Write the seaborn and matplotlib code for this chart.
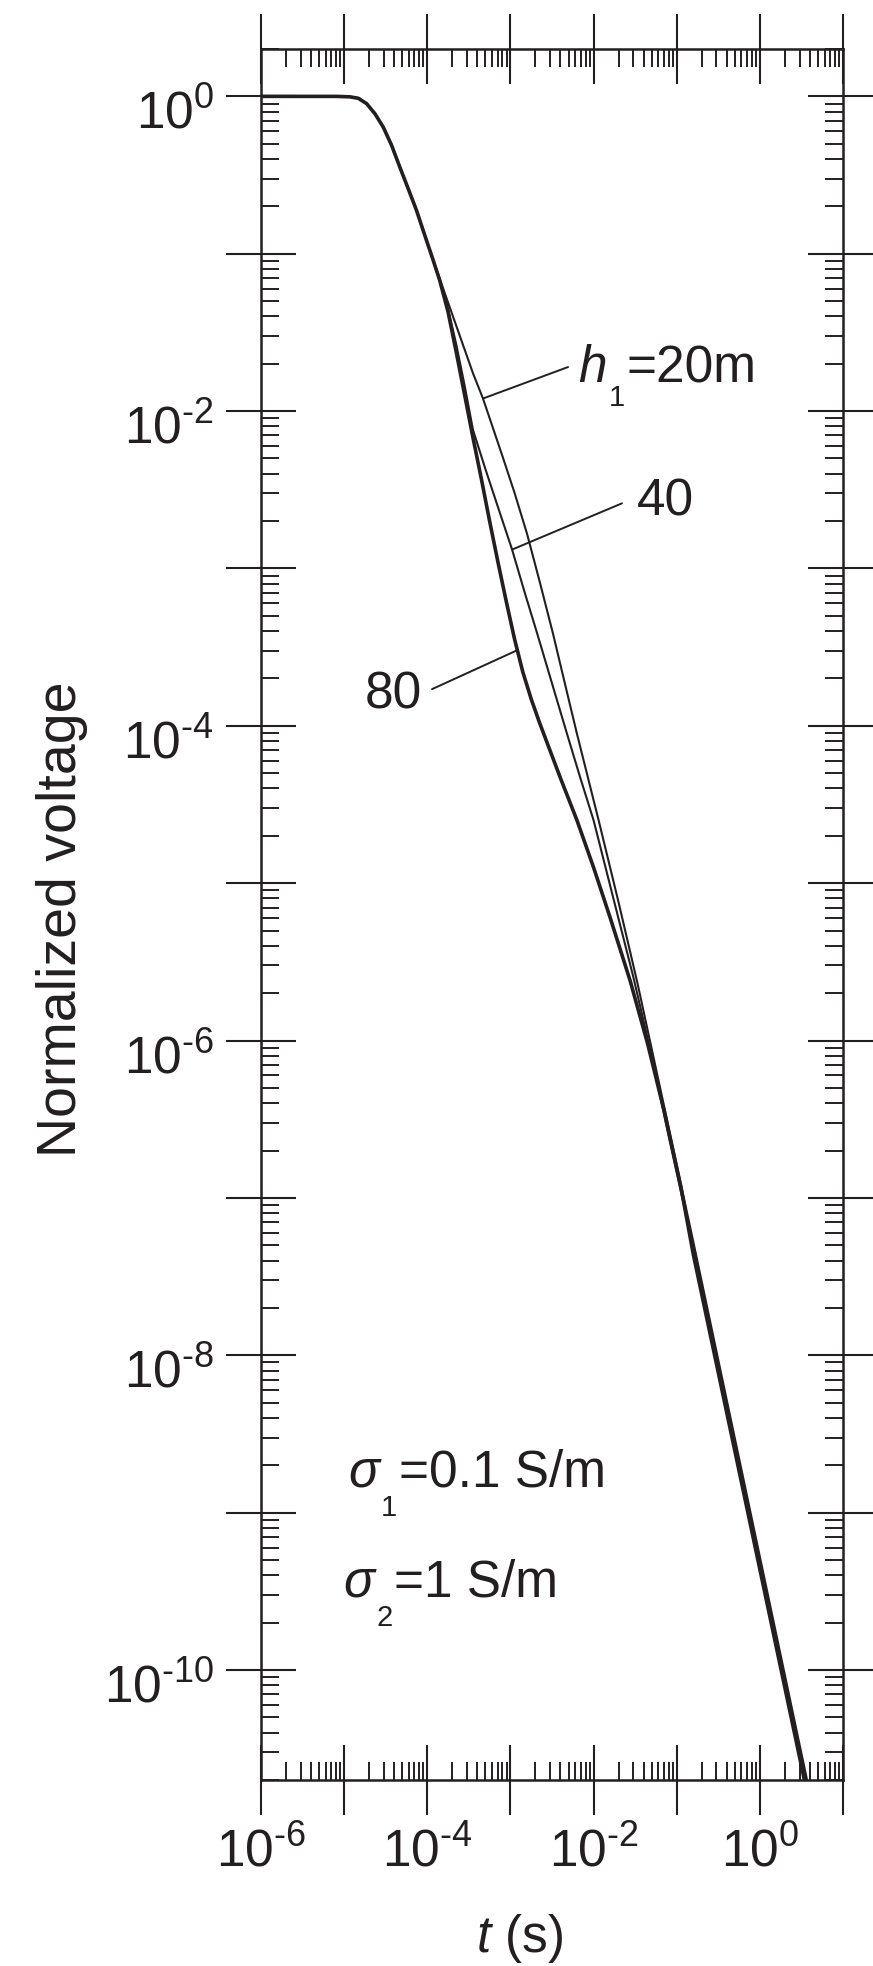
# TEM decay curves, two-layer earth, three top-layer thicknesses

import numpy as np
import pandas as pd
import seaborn as sns
import matplotlib
matplotlib.use('Agg')
from matplotlib import pyplot as plt
from matplotlib import ticker
from matplotlib.transforms import ScaledTranslation

# values, as log10(t) and log10(V)
early_log_t = [-6.0, -5.5, -5.1, -4.93, -4.83, -4.73, -4.63, -4.53, -4.43,
               -4.33, -4.23, -4.13, -4.03, -3.93]
early_log_v = [0.0, 0.0, 0.0, -0.003, -0.012, -0.046, -0.11, -0.195, -0.31,
               -0.45, -0.586, -0.724, -0.883, -1.04]

h20_log_t = [-3.85, -3.75, -3.65, -3.55, -3.45, -3.33, -3.10, -2.95, -2.80,
             -2.65, -2.49, -2.35, -2.20, -1.93, -1.70, -1.47, -1.20, -0.80,
             -0.40, 0.0, 0.40, 0.70]
h20_log_v = [-1.16, -1.31, -1.46, -1.61, -1.76, -1.92, -2.28, -2.52, -2.78,
             -3.08, -3.41, -3.72, -4.05, -4.62, -5.12, -5.64, -6.30, -7.28,
             -8.28, -9.28, -10.28, -11.03]

h40_log_t = [-3.85, -3.75, -3.65, -3.55, -3.45, -3.30, -3.15, -2.98, -2.83,
             -2.68, -2.50, -2.32, -2.16, -2.00, -1.76, -1.52, -1.30, -1.10,
             -0.90, -0.80, -0.40, 0.0, 0.40, 0.70]
h40_log_v = [-1.17, -1.35, -1.58, -1.84, -2.12, -2.37, -2.61, -2.88, -3.15,
             -3.41, -3.73, -4.05, -4.33, -4.60, -5.10, -5.60, -6.10, -6.60,
             -7.08, -7.32, -8.32, -9.32, -10.32, -11.07]

h80_log_t = [-3.85, -3.75, -3.65, -3.55, -3.45, -3.35, -3.25, -3.15, -3.05,
             -2.95, -2.85, -2.75, -2.65, -2.55, -2.40, -2.20, -2.00, -1.80,
             -1.56, -1.35, -1.15, -0.95, -0.80, -0.40, 0.0, 0.40, 0.70]
h80_log_v = [-1.17, -1.37, -1.63, -1.90, -2.17, -2.43, -2.70, -2.96, -3.21,
             -3.45, -3.66, -3.83, -3.98, -4.12, -4.33, -4.60, -4.90, -5.22,
             -5.62, -6.02, -6.45, -6.93, -7.36, -8.36, -9.36, -10.36, -11.11]

layer_names = ['20m', '40', '80']
line_widths = [1.5, 1.5, 2.6]

# decades that carry a major tick
x_decades = [-6, -5, -4, -3, -2, -1, 0, 1]
y_decades = [0, -1, -2, -3, -4, -5, -6, -7, -8, -9, -10]

ink = '#231f20'
dpi = 100

sns.set_style('ticks')
plt.rcParams['font.family'] = ['Liberation Sans', 'DejaVu Sans']
plt.rcParams['mathtext.fontset'] = 'custom'
plt.rcParams['mathtext.rm'] = 'Liberation Sans'
plt.rcParams['mathtext.it'] = 'Liberation Sans:italic'
plt.rcParams['mathtext.bf'] = 'Liberation Sans:bold'

fig = plt.figure(figsize=(8.73, 19.66), dpi=dpi)
ax = fig.add_axes([261 / 873, 1 - 1780 / 1966, 582 / 873, 1731 / 1966])

curves = [(h20_log_t, h20_log_v), (h40_log_t, h40_log_v), (h80_log_t, h80_log_v)]
for name, lw, (lt, lv) in zip(layer_names, line_widths, curves):
    df = pd.DataFrame({'t': 10 ** np.array(early_log_t + lt),
                       'v': 10 ** np.array(early_log_v + lv)})
    sns.lineplot(data=df, x='t', y='v', ax=ax, color=ink, linewidth=lw,
                 estimator=None, sort=False)

ax.set_xscale('log')
ax.set_yscale('log')
ax.set_xlim(1e-6, 1e1)
ax.set_ylim(2e-11, 2)


def even_power(val, pos):
    p = int(round(np.log10(val)))
    if p % 2 != 0:
        return ''
    # short hyphen in the exponent, like the original
    s = str(p).replace('-', '\u2010')
    return r'$10^{%s}$' % s


for axis, decs in ((ax.xaxis, x_decades), (ax.yaxis, y_decades)):
    axis.set_major_locator(ticker.FixedLocator([10.0 ** d for d in decs]))
    axis.set_minor_locator(ticker.LogLocator(base=10, subs=range(2, 10), numticks=30))
    axis.set_major_formatter(ticker.FuncFormatter(even_power))
    axis.set_minor_formatter(ticker.NullFormatter())

ax.tick_params(which='major', direction='inout', length=50, width=1.5,
               color=ink, labelsize=37, labelcolor=ink, pad=9,
               top=True, right=True)
ax.tick_params(which='minor', direction='in', length=13, width=1.4,
               color=ink, top=True, right=True)
for sp in ax.spines.values():
    sp.set_linewidth(1.8)
    sp.set_color(ink)

# y labels sit a little low in the original
for lab in ax.get_yticklabels():
    lab.set_transform(lab.get_transform() + ScaledTranslation(0, -0.13, fig.dpi_scale_trans))

ax.set_ylabel('Normalized voltage', fontsize=40, color=ink)
ax.yaxis.set_label_coords(-0.298, 0.497)
ax.set_xlabel(r'$t$ (s)', fontsize=37, color=ink)
ax.xaxis.set_label_coords(0.445, -0.076)

# leader lines and labels
leaders = [((-3.33, -1.92), (-2.307, -1.72)),
           ((-2.98, -2.88), (-1.658, -2.586)),
           ((-2.92, -3.52), (-3.943, -3.767))]
for (cx, cy), (tx, ty) in leaders:
    ax.annotate('', xy=(10 ** cx, 10 ** cy), xytext=(10 ** tx, 10 ** ty),
                arrowprops=dict(arrowstyle='-', lw=1.4, color=ink,
                                shrinkA=0, shrinkB=0))

renderer = fig.canvas.get_renderer()


def sub_label(lx, ly, base, sub, rest, drop):
    # italic symbol, a deep subscript, then the rest of the label
    x, y = 10 ** lx, 10 ** ly
    a = ax.text(x, y, base, fontsize=37, style='italic', color=ink,
                ha='left', va='baseline')
    wa = a.get_window_extent(renderer).width * 72 / dpi
    b = ax.annotate(sub, xy=(x, y), xytext=(wa + 1.5, -drop),
                    textcoords='offset points', fontsize=21, color=ink,
                    ha='left', va='baseline')
    wb = b.get_window_extent(renderer).width * 72 / dpi
    ax.annotate(rest, xy=(x, y), xytext=(wa + wb + 3, 0),
                textcoords='offset points', fontsize=37, color=ink,
                ha='left', va='baseline')


sub_label(-2.187, -1.817, 'h', '1', '=20m', 17)
ax.text(10 ** -1.478, 10 ** -2.662, '40', fontsize=37, color=ink,
        ha='left', va='baseline')
ax.text(10 ** -4.063, 10 ** -3.888, '80', fontsize=37, color=ink,
        ha='right', va='baseline')
sub_label(-4.954, -8.837, '\u03c3', '1', '=0.1 S/m', 21)
sub_label(-5.014, -9.536, '\u03c3', '2', '=1 S/m', 21)

plt.savefig('out.png', dpi=dpi)
